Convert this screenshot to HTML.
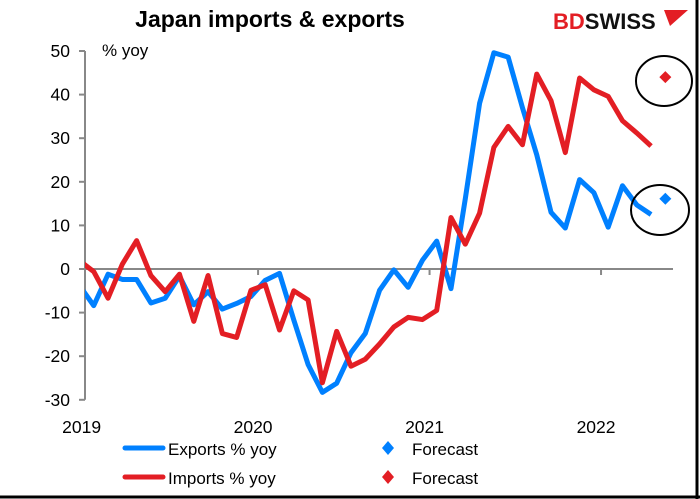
<!DOCTYPE html>
<html><head><meta charset="utf-8"><style>
body{margin:0;background:#fff;}
svg{display:block;font-family:"Liberation Sans",Arial,sans-serif;}
</style></head><body>
<svg width="700" height="499" viewBox="0 0 700 499">
<rect x="0" y="0" width="700" height="499" fill="#fff"/>
<line x1="697" y1="0" x2="697" y2="499" stroke="#000" stroke-width="3"/>
<line x1="0" y1="497" x2="700" y2="497" stroke="#000" stroke-width="3"/>
<text x="270" y="27" text-anchor="middle" font-size="23" font-weight="bold">Japan imports &amp; exports</text>
<text x="553" y="29" font-size="22" font-weight="bold"><tspan fill="#e31e24">BD</tspan><tspan fill="#111">SWISS</tspan></text>
<path d="M664 10 L688 10 L670 26 Z" fill="#e31e24"/>
<text x="102" y="56" font-size="17">% yoy</text>
<g id="axes"></g>
<g id="series"></g>
<ellipse cx="664" cy="81" rx="28" ry="25" fill="none" stroke="#000" stroke-width="2"/>
<ellipse cx="660" cy="210" rx="29" ry="25" fill="none" stroke="#000" stroke-width="2"/>
<g>
<line x1="125" y1="448" x2="163" y2="448" stroke="#0080ff" stroke-width="5" stroke-linecap="round"/>
<text x="168" y="455" font-size="17">Exports % yoy</text>
<path d="M388 441 L394 448 L388 455 L382 448 Z" fill="#0080ff"/>
<text x="412" y="455" font-size="17">Forecast</text>
<line x1="125" y1="477" x2="163" y2="477" stroke="#e31e24" stroke-width="5" stroke-linecap="round"/>
<text x="168" y="484" font-size="17">Imports % yoy</text>
<path d="M388 470 L394 477 L388 484 L382 477 Z" fill="#e31e24"/>
<text x="412" y="484" font-size="17">Forecast</text>
</g>
</svg>
<script>
// months from Dec 2018 (index 0) to Apr 2022
const exportsYoy=[-3.8,-8.4,-1.2,-2.4,-2.4,-7.8,-6.7,-1.6,-8.2,-5.2,-9.2,-7.9,-6.3,-2.6,-1.0,-11.7,-21.9,-28.3,-26.2,-19.2,-14.8,-4.9,-0.2,-4.2,2.0,6.4,-4.5,16.1,38.0,49.6,48.6,37.0,26.2,13.0,9.4,20.5,17.5,9.6,19.1,14.7,12.5];
const importsYoy=[1.9,-0.6,-6.7,1.1,6.5,-1.5,-5.2,-1.2,-12.0,-1.5,-14.8,-15.7,-4.9,-3.6,-14.0,-5.0,-7.1,-26.1,-14.3,-22.3,-20.7,-17.2,-13.3,-11.1,-11.6,-9.5,11.8,5.7,12.8,27.9,32.7,28.5,44.7,38.6,26.7,43.8,41.1,39.6,34.0,31.2,28.2];
const forecastExports=[16.1];
const forecastImports=[44.0];
const yTicks=[50,40,30,20,10,0,-10,-20,-30];
const yearLabels=["2019","2020","2021","2022"];
const NS="http://www.w3.org/2000/svg";
const x0=86.6,pm=14.29,yZero=269,pu=4.36;
const xs=i=>x0+(i-1+0.5)*pm;
const ys=v=>yZero-v*pu;
const axes=document.getElementById('axes'),ser=document.getElementById('series');
function mk(t,a,p){const e=document.createElementNS(NS,t);for(const k in a)e.setAttribute(k,a[k]);p.appendChild(e);return e;}
let l=mk('line',{x1:85,y1:ys(50),x2:85,y2:ys(-30),stroke:'#888','stroke-width':2},axes);


yTicks.forEach(v=>{
 const t=mk('line',{x1:79,y1:ys(v),x2:85,y2:ys(v),stroke:'#888','stroke-width':2},axes);
 
 
 const tx=mk('text',{x:70,y:ys(v)+6,'text-anchor':'end','font-size':17.5},axes);
 tx.textContent=v;
 
 
});
l=mk('line',{x1:85,y1:yZero,x2:673,y2:yZero,stroke:'#888','stroke-width':2},axes);


yearLabels.forEach((y,k)=>{
 const xt=x0+k*12*pm;
 if(k>0){const t=mk('line',{x1:xt,y1:yZero,x2:xt,y2:yZero+6,stroke:'#888','stroke-width':2},axes);
 
 }
 const tx=mk('text',{x:xt-5,y:433,'text-anchor':'middle','font-size':17.5},axes);
 tx.textContent=y;
 
 
});
mk('clipPath',{id:'pc'},ser).appendChild(document.createElementNS(NS,'rect'));
const cr=ser.querySelector('#pc rect');cr.setAttribute('x',85);cr.setAttribute('y',0);cr.setAttribute('width',615);cr.setAttribute('height',499);
function line(d,c,name){
 const p=mk('polyline',{points:d.map((v,i)=>xs(i)+','+ys(v)).join(' '),fill:'none',stroke:c,'stroke-width':5,'stroke-linejoin':'round','clip-path':'url(#pc)'},ser);
 
 
}
line(exportsYoy,'#0080ff','exports-line');
line(importsYoy,'#e31e24','imports-line');
function diamond(v,i,c,name){
 const cx=xs(i),cy=ys(v);
 const p=mk('path',{d:`M${cx} ${cy-6} L${cx+6} ${cy} L${cx} ${cy+6} L${cx-6} ${cy} Z`,fill:c},ser);
 
 
}
forecastExports.forEach((v,k)=>diamond(v,exportsYoy.length+k,'#0080ff','exports-forecast-marker'));
forecastImports.forEach((v,k)=>diamond(v,importsYoy.length+k,'#e31e24','imports-forecast-marker'));
</script>
</body></html>
